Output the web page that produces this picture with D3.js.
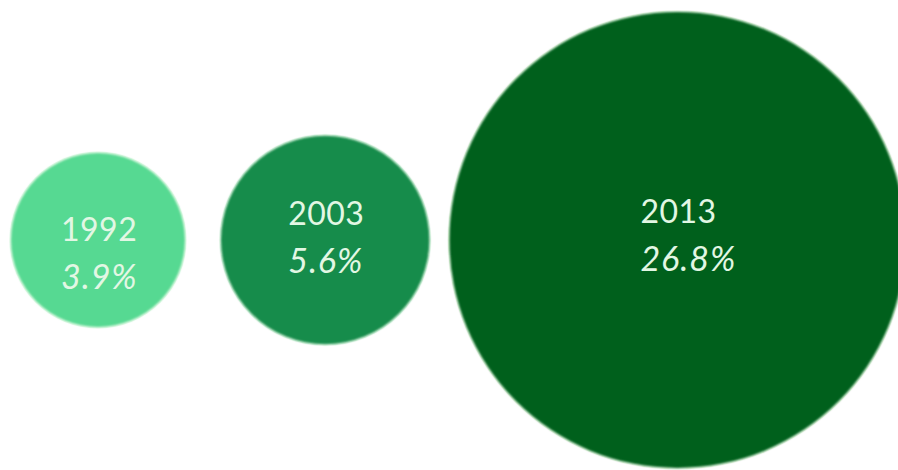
<!DOCTYPE html>
<html>
<head>
<meta charset="utf-8">
<script src="https://cdn.jsdelivr.net/npm/d3@7"></script>
<style>
  html, body { margin: 0; padding: 0; background: #ffffff; }
  svg { display: block; }
</style>
</head>
<body>
<svg id="chart" width="898" height="470"></svg>
<script>
// Share per survey year
const years = ["1992", "2003", "2013"];
const shares = [3.9, 5.6, 26.8];
const fills = ["#56d992", "#148c4b", "#06601a"];

const width = 898, height = 470;
const svg = d3.select("#chart");

// Bubble area proportional to share
const r = d3.scaleSqrt().domain([0, 26.8]).range([0, 228]);

// Bubbles sit side by side on a common centre line
const leftStart = 11, gaps = [36, 20], centerY = 240;
const labelDy = [1, -15, -17];
let cursor = leftStart;
const nodes = years.map((y, i) => {
  const rad = r(shares[i]);
  if (i > 0) cursor += gaps[i - 1];
  const cx = cursor + rad;
  cursor += 2 * rad;
  return { year: y, value: shares[i], fill: fills[i], rad, cx, cy: centerY, dy: labelDy[i] };
});

const defs = svg.append("defs");
const soft = defs.append("filter").attr("id", "soft")
  .attr("x", "-10%").attr("y", "-10%").attr("width", "120%").attr("height", "120%");
soft.append("feGaussianBlur").attr("stdDeviation", 0.8);

const g = svg.append("g");

// pale rim around each bubble
g.selectAll("circle.halo").data(nodes).join("circle")
  .attr("class", "halo")
  .attr("cx", d => d.cx).attr("cy", d => d.cy)
  .attr("r", d => d.rad + 1.5)
  .attr("fill", "#e9fbe9");

g.selectAll("circle.bubble").data(nodes).join("circle")
  .attr("class", "bubble")
  .attr("cx", d => d.cx).attr("cy", d => d.cy)
  .attr("r", d => d.rad)
  .attr("fill", d => d.fill)
  .attr("filter", "url(#soft)");

const fmt = d3.format(".1f");
const labels = g.selectAll("g.label").data(nodes).join("g")
  .attr("class", "label")
  .attr("transform", d => `translate(${d.cx - 37},${d.cy + d.dy})`);

labels.append("text")
  .attr("font-family", "Lato, 'Open Sans', sans-serif")
  .attr("font-size", 32)
  .attr("letter-spacing", 0.5)
  .attr("fill", "#e2f7e4")
  .text(d => d.year);

labels.append("text")
  .attr("y", 48)
  .attr("font-family", "Lato, 'Open Sans', sans-serif")
  .attr("font-size", 34)
  .attr("letter-spacing", 1)
  .attr("font-style", "italic")
  .attr("fill", "#e2f7e4")
  .text(d => fmt(d.value) + "%");
</script>
</body>
</html>
